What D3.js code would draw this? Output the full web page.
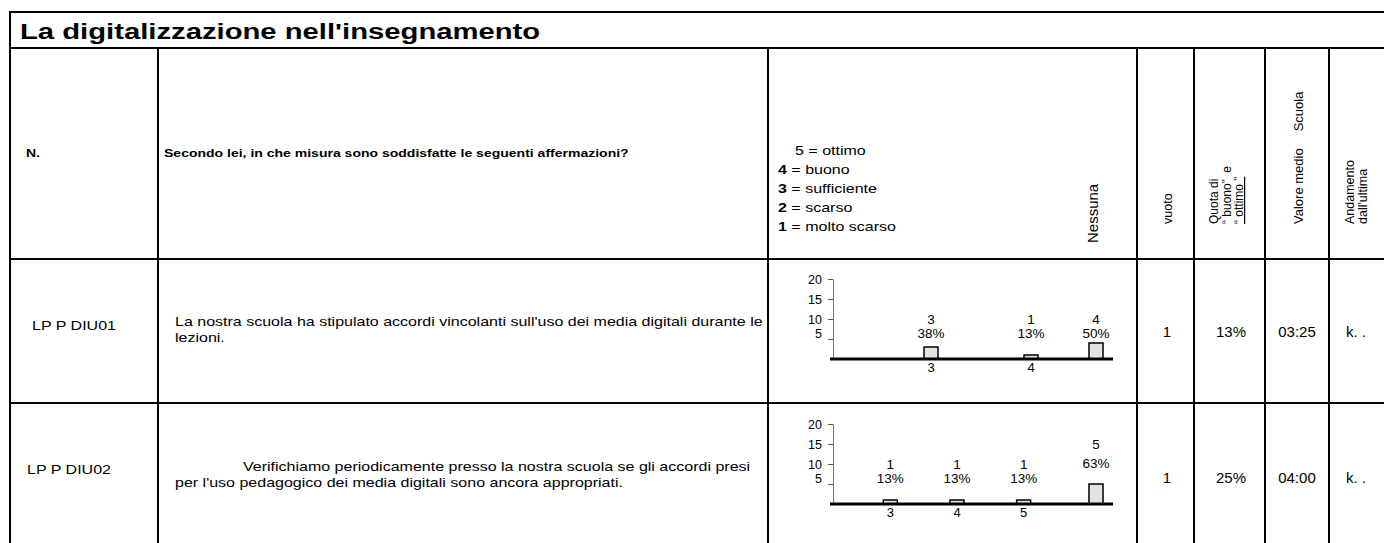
<!DOCTYPE html>
<html>
<head>
<meta charset="utf-8">
<script src="https://cdn.jsdelivr.net/npm/d3@7"></script>
<style>
  html, body { margin: 0; padding: 0; background: #fff; }
  svg { display: block; font-family: "Liberation Sans", Arial, sans-serif; }
  svg text { white-space: pre; }
</style>
</head>
<body>
<svg id="chart" width="1384" height="543"></svg>
<script>
// ---------------- DATA ----------------
const title = "La digitalizzazione nell'insegnamento";
const headerN = "N.";
const headerQuestion = "Secondo lei, in che misura sono soddisfatte le seguenti affermazioni?";
const legendNums = ["5", "4", "3", "2", "1"];
const legendLabels = ["ottimo", "buono", "sufficiente", "scarso", "molto scarso"];
const headerNessuna = "Nessuna";
const headerVuoto = "vuoto";
const headerQuota = ["Quota di", "\u201C buono\u201D  e", "\u201C ottimo \u201D"];
const headerValore = ["Valore medio", "Scuola"];
const headerAndamento = ["Andamento", "dall'ultima"];

const codes = ["LP P DIU01", "LP P DIU02"];
const questionLines = [
  ["La nostra scuola ha stipulato accordi vincolanti sull'uso dei media digitali durante le", "lezioni."],
  ["Verifichiamo periodicamente presso la nostra scuola se gli accordi presi", "per l'uso pedagogico dei media digitali sono ancora appropriati."]
];
const categories = [["3", "4"], ["3", "4", "5"]];
const counts = [[3, 1], [1, 1, 1]];
const nessunaCounts = [4, 5];
const vuotoValues = ["1", "1"];
const quotaValues = ["13%", "25%"];
const valoreValues = ["03:25", "04:00"];
const andamentoValues = ["k. .", "k. ."];
const yTicks = [5, 10, 15, 20];

// ---------------- LAYOUT ----------------
const W = 1384, H = 543;
const SX = 1.335; // horizontal stretch of the document text
const colX = [10, 158, 768, 1137, 1194, 1265, 1329];
const yTop = 12, yTitle = 48, yHeader = 259;
const rowTops = [259, 403];
const svg = d3.select("#chart");

function stext(parent, x, y, size, weight) {
  return parent.append("g").attr("transform", `translate(${x},${y}) scale(${SX},1)`)
    .append("text").attr("font-size", size).attr("font-weight", weight || "normal");
}
function vtext(x, y, size) {
  return svg.append("text").attr("transform", `translate(${x},${y}) rotate(-90)`).attr("font-size", size);
}

// ---- grid lines
const grid = svg.append("g").attr("stroke", "#000").attr("stroke-width", 2);
grid.append("line").attr("x1", colX[0]).attr("x2", W + 5).attr("y1", yTop).attr("y2", yTop);
grid.append("line").attr("x1", colX[0]).attr("x2", colX[0]).attr("y1", yTop - 1).attr("y2", H + 5);
grid.append("line").attr("x1", colX[0]).attr("x2", W + 5).attr("y1", yTitle).attr("y2", yTitle);
[yHeader, rowTops[1]].forEach(y => grid.append("line").attr("x1", colX[0]).attr("x2", W + 5).attr("y1", y).attr("y2", y));
colX.slice(1).forEach(x => grid.append("line").attr("x1", x).attr("x2", x).attr("y1", yTitle).attr("y2", H + 5));

// ---- title
svg.append("g").attr("transform", `translate(20,39) scale(1.3,1)`)
  .append("text").attr("font-size", 22.5).attr("font-weight", "bold").text(title);

// ---- header row
stext(svg, 26, 157, 10.5, "bold").text(headerN);
stext(svg, 164, 157, 10.5, "bold").text(headerQuestion);

legendNums.forEach((n, i) => {
  const t = stext(svg, i === 0 ? 795 : 778, 154.5 + i * 19, 12);
  t.append("tspan").attr("font-weight", i === 0 ? "normal" : "bold").text(n);
  t.append("tspan").text(" = " + legendLabels[i]);
});

vtext(1098, 243, 15).text(headerNessuna);
vtext(1172, 224, 12.5).text(headerVuoto);
headerQuota.forEach((l, i) => {
  const t = vtext(1218 + i * 12.5, 224, 12).text(l);
  if (i === 2) t.attr("text-decoration", "underline");
});
const vt = vtext(1303, 224, 13);
vt.append("tspan").text(headerValore[0]);
vt.append("tspan").attr("dx", 17).text(headerValore[1]);
headerAndamento.forEach((l, i) => vtext(1354 + i * 13, 224, 12.5).text(l));

// ---- data rows
const catRangeStart = [881, 857];
const axisX = 833, baseX0 = 830, baseX1 = 1113, nessunaX = 1096, barW = 14;
const codeX = [32, 27];
const codeBase = [330, 474];
const lineBase = [[326, 342], [471, 487]];
const valBase = [336.5, 482.5];

rowTops.forEach((top, r) => {
  stext(svg, codeX[r], codeBase[r], 12).text(codes[r]);
  questionLines[r].forEach((line, i) => {
    stext(svg, (r === 1 && i === 0) ? 243 : 175, lineBase[r][i], 12).text(line);
  });
  [[1167, vuotoValues], [1231, quotaValues], [1297, valoreValues]].forEach(([x, arr]) => {
    svg.append("text").attr("x", x).attr("y", valBase[r]).attr("text-anchor", "middle").attr("font-size", 15).text(arr[r]);
  });
  svg.append("text").attr("x", 1346).attr("y", valBase[r]).attr("font-size", 15).text(andamentoValues[r]);

  // mini chart
  const base = top + 100 + r;
  const y = d3.scaleLinear().domain([0, 20]).range([base, base - 80]);
  const x = d3.scalePoint().domain(categories[r]).range([catRangeStart[r], catRangeStart[r] + 200]).padding(0.5);
  const g = svg.append("g");
  const ax = g.append("g").attr("transform", `translate(${axisX},0)`)
    .call(d3.axisLeft(y).tickValues(yTicks).tickSize(5).tickSizeOuter(0).tickPadding(6));
  ax.select(".domain").attr("stroke", "#777");
  ax.selectAll(".tick line").attr("stroke", "#555");
  ax.selectAll(".tick text").attr("font-size", 12.5).attr("font-family", null).attr("fill", "#000")
    .attr("dy", d => d === 5 ? "-0.15em" : "0.32em");
  const total = d3.sum(counts[r]) + nessunaCounts[r];
  const items = categories[r].map((c, i) => ({ c, v: counts[r][i], cx: x(c), lab: true }))
    .concat([{ c: "N", v: nessunaCounts[r], cx: nessunaX, lab: false }]);
  g.selectAll("rect.bar").data(items).join("rect").attr("class", "bar")
    .attr("x", d => d.cx - barW / 2).attr("y", d => y(d.v)).attr("width", barW)
    .attr("height", d => base - y(d.v)).attr("fill", "#e3e3e3").attr("stroke", "#000").attr("stroke-width", 1.5);
  g.append("line").attr("x1", baseX0).attr("x2", baseX1).attr("y1", base).attr("y2", base)
    .attr("stroke", "#000").attr("stroke-width", 3);
  const slot = v => Math.floor(v / 5) * 5 + 5;
  items.forEach(d => {
    const s = slot(d.v);
    const pctY = y(s) - (s === 5 ? 6 : 1);
    g.append("text").attr("x", d.cx).attr("y", y(s + 5)).attr("dy", "0.35em").attr("text-anchor", "middle")
      .attr("font-size", 13.5).text(d.v);
    g.append("text").attr("x", d.cx).attr("y", pctY).attr("dy", "0.35em").attr("text-anchor", "middle")
      .attr("font-size", 13.5).text(Math.round(d.v / total * 100) + "%");
    if (d.lab) {
      g.append("text").attr("x", d.cx).attr("y", base + 12.5).attr("text-anchor", "middle")
        .attr("font-size", 13).text(d.c);
    }
  });
});
</script>
</body>
</html>
